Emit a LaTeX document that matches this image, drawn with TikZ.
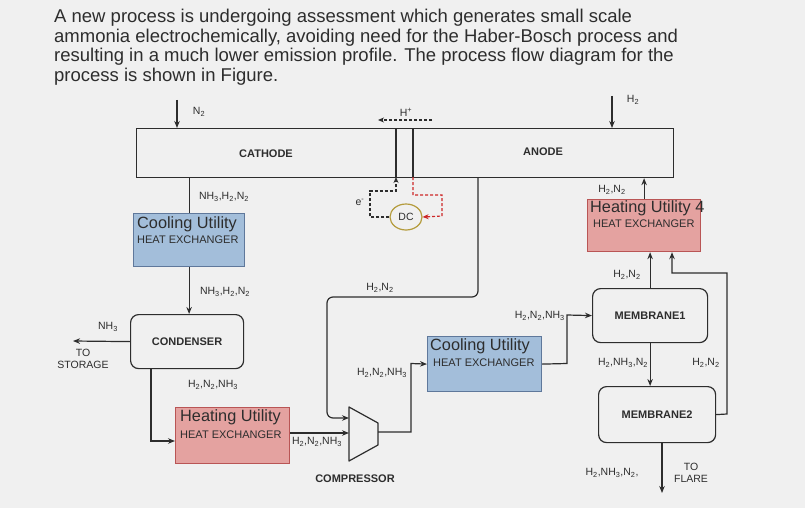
\documentclass[tikz,border=0pt]{standalone}
\usepackage{fontspec}
\setmainfont{Liberation Sans}
\usetikzlibrary{arrows.meta,calc,shapes.geometric}
\definecolor{bg}{RGB}{240,240,240}
\definecolor{ink}{RGB}{45,45,45}
\definecolor{cufill}{RGB}{163,190,218}
\definecolor{cudraw}{RGB}{95,120,155}
\definecolor{hufill}{RGB}{228,162,160}
\definecolor{hudraw}{RGB}{185,85,85}
\definecolor{dcgold}{RGB}{180,155,60}
\definecolor{redline}{RGB}{205,40,40}
\newcommand{\sbs}[1]{\textsubscript{#1}}
\begin{document}
\begin{tikzpicture}[x=1pt,y=-1pt,
  ln/.style={draw=ink, line width=1.2pt},
  arr/.style={ln, -{Stealth[length=7pt,width=5.5pt]}},
  dsh/.style={draw=ink, line width=1.2pt, dash pattern=on 3pt off 2pt, -{Stealth[length=6pt,width=5pt]}},
  rdsh/.style={dsh, draw=redline, -{Stealth[length=6pt,width=5pt,fill=redline]}},
  lbl/.style={font=\fontsize{10.5}{12}\selectfont, text=ink, inner sep=0},
  unitlbl/.style={font=\fontsize{11}{13}\selectfont\bfseries, text=ink, inner sep=0},
  big/.style={font=\fontsize{16.3}{18}\selectfont, text=ink, inner sep=0, anchor=west},
  small/.style={font=\fontsize{11}{13}\selectfont, text=ink, inner sep=0, anchor=west},
  titleline/.style={font=\fontsize{18.5}{20}\selectfont, text=ink, inner sep=0, anchor=base west},
  box/.style={ln, inner sep=0, anchor=north west},
  cool/.style={box, fill=cufill, draw=cudraw},
  heat/.style={box, fill=hufill, draw=hudraw},
  rbox/.style={box, rounded corners=8pt, fill=bg},
]
\useasboundingbox (0,0) rectangle (805,508);
\fill[bg] (0,0) rectangle (805,508);

% title
\node[titleline] (t1) at (54,23) {A new process is undergoing assessment which generates small scale};
\node[titleline] (t2) at (54,42.5) {ammonia electrochemically, avoiding need for the Haber-Bosch process and};
\node[titleline] (t3) at (54,62) {resulting in a much lower emission profile. The process flow diagram for the};
\node[titleline] (t4) at (54,82) {process is shown in Figure.};

% cell
\node[box, minimum width=537pt, minimum height=49pt] (cell) at (136,128) {};
\coordinate (d1t) at (396,128); \coordinate (d1b) at (396,177);
\coordinate (d2t) at (413,128); \coordinate (d2b) at (413,177);
\draw[ln] (d1t) -- (d1b);
\draw[ln] (d2t) -- (d2b);
\node[unitlbl] (cath) at (266,154) {CATHODE};
\node[unitlbl] (anod) at (543,152) {ANODE};

% inlets
\coordinate (n2in) at (177,100);
\draw[arr] (n2in) -- (n2in |- cell.north);
\node[lbl] (n2l) at (199,112) {N\sbs{2}};
\coordinate (h2in) at (612,96);
\draw[arr] (h2in) -- (h2in |- cell.north);
\node[lbl] (h2l) at (633,100) {H\sbs{2}};
\coordinate (hpa) at (432,120); \coordinate (hpb) at (378,120);
\draw[dsh] (hpa) -- (hpb);
\node[lbl] (hpl) at (406,112) {H\textsuperscript{+}};

% DC
\node[draw=dcgold, line width=1.2pt, ellipse, minimum width=32pt, minimum height=26pt, inner sep=0,
  font=\fontsize{10.5}{12}\selectfont, text=ink] (dc) at (406,217) {DC};
\draw[dsh] (dc.west) -- (370,217) -- (370,191) -- (396,191) -- (d1b);
\node[lbl] (el) at (360,202) {e\textsuperscript{-}};
\draw[rdsh] (d2b) -- (413,195) -- (442,195) -- (442,216) -- (dc.east);

% cooling utility 1
\node[cool, minimum width=111pt, minimum height=53pt] (cu1) at (133,213) {};
\node[big] at ($(cu1.north west)+(4,11)$) {Cooling Utility};
\node[small] at ($(cu1.north west)+(4,27)$) {HEAT EXCHANGER};
\draw[ln] (cu1.north |- cell.south) -- (cu1.north);
\node[lbl] (l1) at (224,197) {NH\sbs{3},H\sbs{2},N\sbs{2}};

% condenser
\node[rbox, minimum width=113pt, minimum height=54pt] (cond) at (130,314) {};
\node[unitlbl] at (cond.center) {CONDENSER};
\draw[arr] (cu1.south) -- (cu1.south |- cond.north);
\node[lbl] (l2) at (225,292) {NH\sbs{3},H\sbs{2},N\sbs{2}};
\coordinate (storage) at (73,341);
\draw[arr] (cond.west) -- (storage);
\node[lbl] (l3) at (108,327) {NH\sbs{3}};
\node[lbl, align=center, font=\fontsize{10.5}{12}\selectfont] (sto) at (83,359) {TO\\STORAGE};

% heating utility 1
\node[heat, minimum width=114pt, minimum height=56pt] (hu1) at (175,407) {};
\node[big] at ($(hu1.north west)+(5,10)$) {Heating Utility};
\node[small] at ($(hu1.north west)+(5,28)$) {HEAT EXCHANGER};
\coordinate (cb) at (151,368);
\draw[arr] (cb) -- (151,441) -- (hu1.west |- 0,441);
\node[lbl] (l4) at (213,385) {H\sbs{2},N\sbs{2},NH\sbs{3}};

% compressor
\coordinate (ctl) at (349,407); \coordinate (cbl) at (349,461);
\coordinate (ctr) at (378,423); \coordinate (cbr) at (378,445);
\draw[ln, fill=bg, line join=round] (ctl) -- (ctr) -- (cbr) -- (cbl) -- cycle;
\node[unitlbl] (compl) at (355,479) {COMPRESSOR};
\draw[arr] (hu1.east |- 0,433) -- (ctl |- 0,433);
\node[lbl] (l5) at (317,442) {H\sbs{2},N\sbs{2},NH\sbs{3}};
\coordinate (an) at (478,177);
\draw[arr, rounded corners=6pt] (an) -- (478,297) -- (327,297) -- (327,418) -- (ctl |- 0,418);
\node[lbl] (l6) at (380,288) {H\sbs{2},N\sbs{2}};

% cooling utility 2
\node[cool, minimum width=114pt, minimum height=55pt] (cu2) at (427,336) {};
\node[big] at ($(cu2.north west)+(3,10)$) {Cooling Utility};
\node[small] at ($(cu2.north west)+(6,27)$) {HEAT EXCHANGER};
\coordinate (cout) at (378,432);
\draw[arr] (cout) -- (411,432) -- (411,363.5) -- (cu2.west);
\node[lbl] (l7) at (382,373) {H\sbs{2},N\sbs{2},NH\sbs{3}};

% membrane 1
\node[rbox, minimum width=115pt, minimum height=54pt] (mem1) at (592,288) {};
\node[unitlbl] at (mem1.center) {MEMBRANE1};
\draw[arr] (cu2.east) -- (567,363.5) -- (567,315) -- (mem1.west);
\node[lbl, anchor=east] (l8) at (565,316) {H\sbs{2},N\sbs{2},NH\sbs{3}};

% heating utility 4
\node[heat, minimum width=113pt, minimum height=52pt] (hu4) at (587,199) {};
\node[big] at ($(hu4.north west)+(3,9)$) {Heating Utility 4};
\node[small] at ($(hu4.north west)+(6,25)$) {HEAT EXCHANGER};
\draw[arr] (hu4.north) -- (hu4.north |- cell.south);
\node[lbl] (l9) at (612,190) {H\sbs{2},N\sbs{2}};
\draw[arr] (mem1.north) -- (mem1.north |- hu4.south);
\node[lbl] (l10) at (627,275) {H\sbs{2},N\sbs{2}};

% membrane 2
\node[rbox, minimum width=117pt, minimum height=56pt] (mem2) at (598,386) {};
\node[unitlbl] at (mem2.center) {MEMBRANE2};
\draw[arr] (mem1.south) -- (mem1.south |- mem2.north);
\node[lbl] (l11) at (623,363) {H\sbs{2},NH\sbs{3},N\sbs{2}};
\draw[arr] (mem2.east) -- (727,414) -- (727,273) -- (672,273) -- (672,0 |- hu4.south);
\node[lbl] (l12) at (706,363) {H\sbs{2},N\sbs{2}};
\coordinate (m2o) at (662,442);
\coordinate (flare) at (662,493);
\draw[arr] (m2o) -- (flare);
\node[lbl] (l13) at (612,473) {H\sbs{2},NH\sbs{3},N\sbs{2},};
\node[lbl, align=center] (fl) at (691,473) {TO\\FLARE};
\end{tikzpicture}
\end{document}
